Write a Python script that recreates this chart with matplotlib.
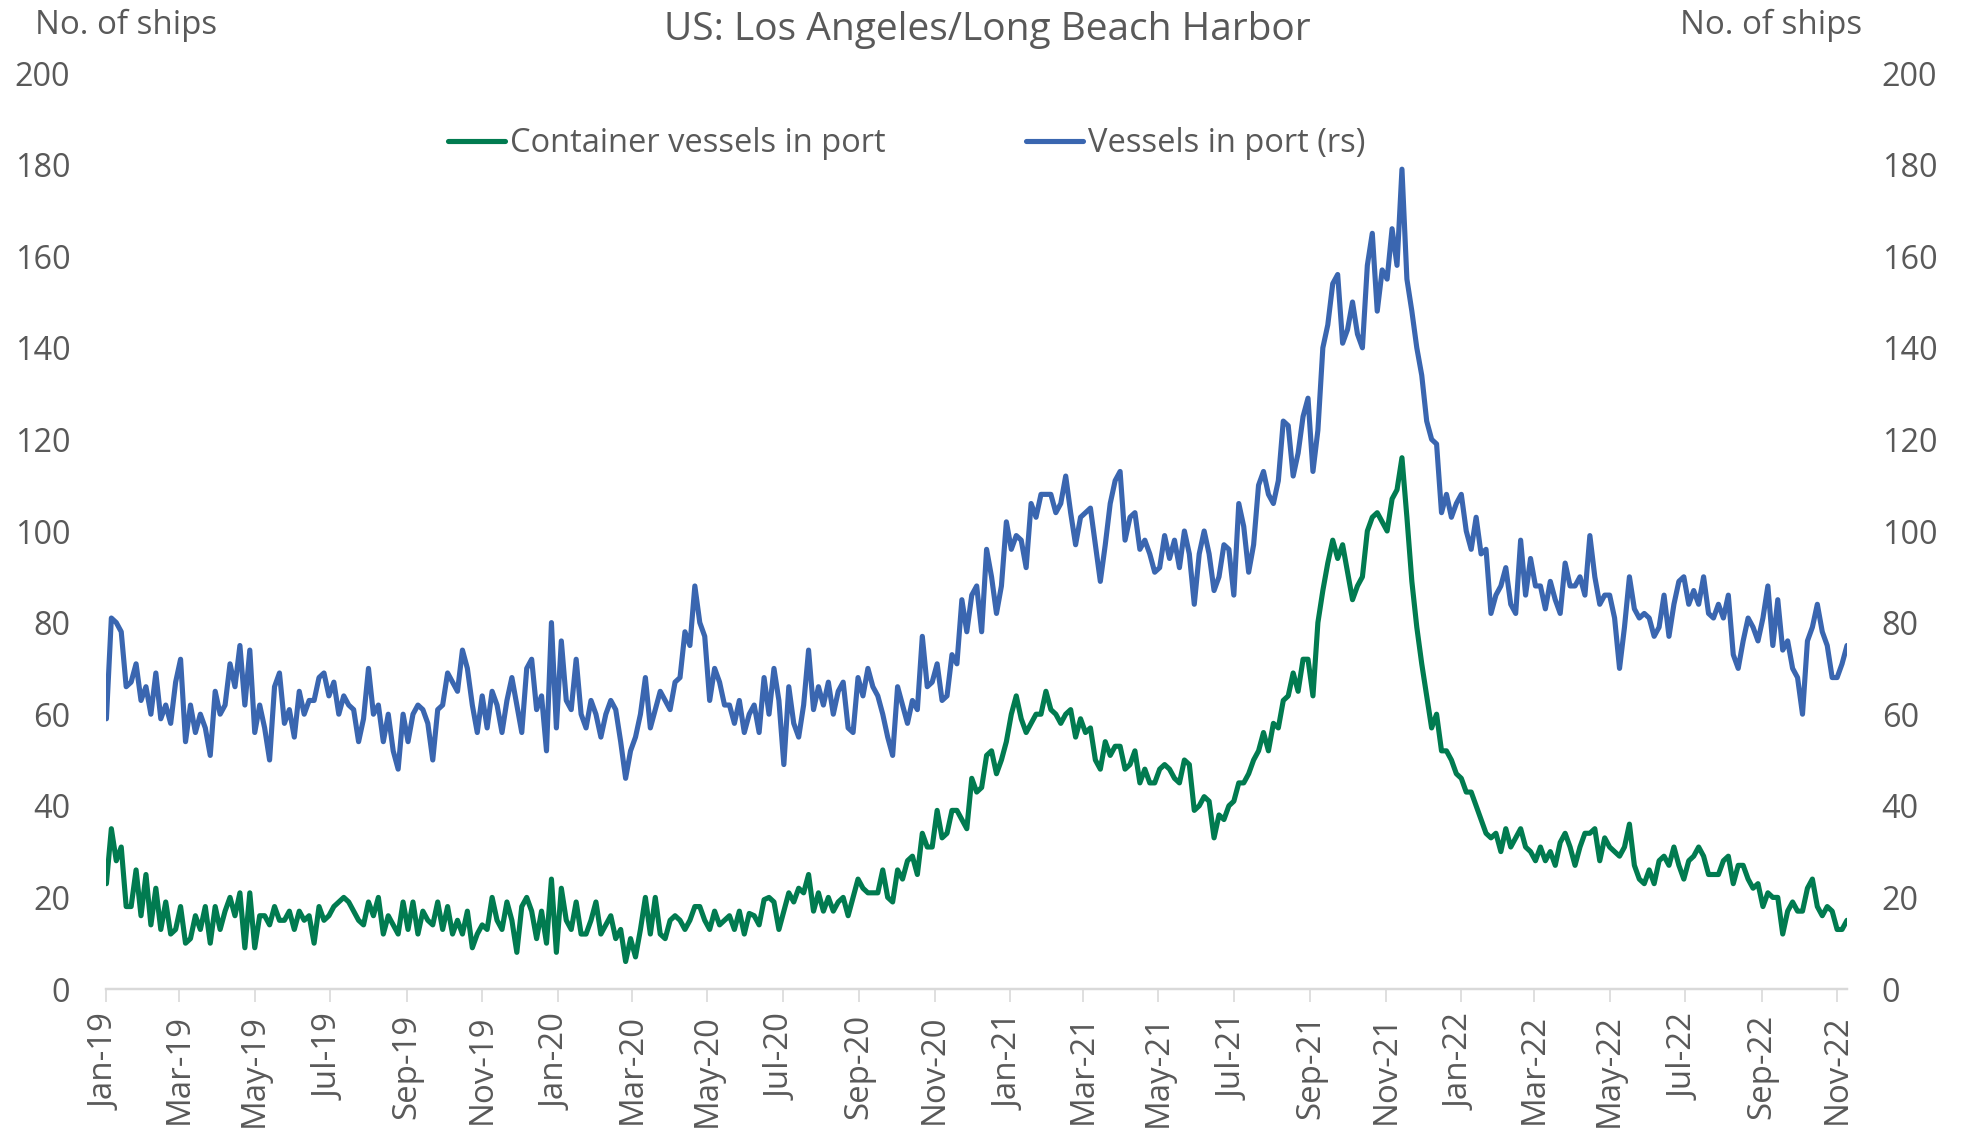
import matplotlib
matplotlib.use('Agg')
import matplotlib.pyplot as plt
import pandas as pd

# ---------------- data (sampled every 4 days from 1 Jan 2019) ----------------
start_date = '2019-01-01'
sample_step = '4D'

container_vessels = [
    23, 35, 28, 31, 18, 18, 26, 16, 25, 14, 22, 13, 19, 12, 13, 18, 10, 11, 16, 13,
    18, 10, 18, 13, 17, 20, 16, 21, 9, 21, 9, 16, 16, 14, 18, 15, 15, 17, 13, 17,
    15, 16, 10, 18, 15, 16, 18, 19, 20, 19, 17, 15, 14, 19, 16, 20, 12, 16, 14, 12,
    19, 13, 19, 12,
    17, 15, 14, 19, 13, 18, 12, 15, 12, 17, 9, 12, 14, 13, 20, 15, 13, 19, 15, 8,
    18, 20, 17, 11, 17, 10, 24, 8, 22, 15, 13, 19, 12, 12, 15, 19, 12, 14, 16, 11,
    13, 6, 11, 7, 13, 20, 12, 20, 12, 11, 15, 16, 15, 13, 15, 18, 18, 15, 13, 17, 14,
    15, 16, 13, 17, 12, 16.5, 16, 14, 19.5, 20, 19, 13, 17, 21, 19, 22, 21, 25, 17, 21,
    17, 20, 17, 19, 20, 16, 20, 24, 22, 21, 21, 21, 26, 20, 19, 26, 24, 28, 29, 25,
    34, 31, 31, 39, 33, 34, 39, 39, 37, 35, 46, 43, 44, 51, 52, 47, 50, 54, 60, 64,
    59, 56, 58, 60, 60, 65, 61, 60, 58, 60, 61, 55, 59, 56, 57, 50, 48, 54, 51, 53,
    53, 48, 49, 52, 45, 48, 45, 45, 48, 49, 48, 46, 45, 50, 49, 39, 40, 42, 41, 33,
    38, 37, 40, 41, 45, 45, 47, 50, 52, 56, 52, 58, 57, 63,
    64, 69, 65, 72, 72, 64, 80, 87, 93, 98, 94, 97, 91, 85, 88, 90, 100, 103, 104, 102,
    100, 107, 109, 116, 103, 89, 79, 71, 64, 57, 60, 52, 52, 50, 47, 46,
    43, 43, 40, 37, 34, 33, 34, 30, 35, 31, 33, 35, 31, 30, 28, 31, 28, 30, 27, 32,
    34, 31, 27,
    31, 34, 34, 35, 28, 33, 31, 30, 29, 31, 36, 27, 24, 23, 26, 23, 28, 29, 27, 31,
    27, 24, 28, 29, 31, 29, 25, 25, 25, 28, 29, 23, 27, 27, 24, 22, 23, 18, 21, 20,
    20, 12, 17, 19, 17, 17, 22, 24, 18, 16, 18, 17, 13, 13, 15,
]

vessels_in_port = [
    59, 81, 80, 78, 66, 67, 71, 63, 66, 60, 69, 59, 62, 58, 67, 72, 54, 62, 56, 60,
    57, 51, 65, 60, 62, 71, 66, 75, 62, 74, 56, 62, 57, 50, 66, 69, 58, 61, 55, 65,
    60, 63, 63, 68, 69, 64, 67, 60, 64, 62, 61, 54, 59, 70, 60, 62, 54, 60, 52, 48,
    60, 54, 60, 62,
    61, 58, 50, 61, 62, 69, 67, 65, 74, 70, 62, 56, 64, 57, 65, 62, 56, 63, 68, 62,
    56, 70, 72, 61, 64, 52, 80, 57, 76, 63, 61, 72, 60, 57, 63, 60, 55, 60, 63, 61,
    54, 46, 52, 55, 60, 68, 57, 61, 65, 63, 61, 67, 68, 78, 75, 88, 80, 77, 63, 70, 67,
    62, 62, 58, 63, 56, 60, 62, 56, 68, 60, 70, 63, 49, 66, 58, 55, 62, 74, 61, 66,
    62, 67, 60, 65, 67, 57, 56, 68, 64, 70, 66, 64, 60, 55, 51, 66, 62, 58, 63, 61,
    77, 66, 67, 71, 63, 64, 73, 71, 85, 78, 86, 88, 78, 96, 90, 82, 88, 102, 96, 99,
    98, 92, 106, 103, 108, 108, 108, 104, 106, 112, 104, 97, 103, 104, 105, 97, 89, 97, 106, 111,
    113, 98, 103, 104, 96, 98, 95, 91, 92, 99, 94, 98, 92, 100, 95, 84, 95, 100, 95, 87,
    90, 97, 96, 86, 106, 101, 91, 97, 110, 113, 108, 106, 111, 124,
    123, 112, 117, 125, 129, 113, 122, 140, 145, 154, 156, 141, 144, 150, 143, 140, 158, 165, 148, 157,
    155, 166, 158, 179, 155, 148, 140, 134, 124, 120, 119, 104, 108, 103, 106, 108,
    100, 96, 103, 95, 96, 82, 86, 88, 92, 84, 82, 98, 86, 94, 88, 88, 83, 89, 85, 82,
    93, 88, 88,
    90, 86, 99, 90, 84, 86, 86, 81, 70, 79, 90, 83, 81, 82, 81, 77, 79, 86, 77, 84,
    89, 90, 84, 87, 84, 90, 82, 81, 84, 81, 86, 73, 70, 76, 81, 79, 76, 81, 88, 75,
    85, 74, 76, 70, 68, 60, 76, 79, 84, 78, 75, 68, 68, 71, 75,
]

title = 'US: Los Angeles/Long Beach Harbor'
y_label = 'No. of ships'
series_names = ['Container vessels in port', 'Vessels in port (rs)']
y_ticks = list(range(0, 201, 20))
x_tick_dates = pd.date_range('2019-01-01', '2022-11-01', freq='2MS')

dates = pd.date_range(start_date, periods=len(vessels_in_port), freq=sample_step)

# ---------------- styling ----------------
GREEN = '#017B50'
BLUE = '#3A66B0'
TXT = '#595959'
AXISC = '#D9D9D9'
FONT = 'Open Sans'
FS = 23.3

plt.rcParams['font.family'] = [FONT, 'DejaVu Sans']

W, H = 1963, 1130
fig = plt.figure(figsize=(W / 100, H / 100), dpi=100)
x0, x1 = 106.4, 1847.0
y0, y1 = 989.0, 73.0
ax = fig.add_axes([x0 / W, 1 - y0 / H, (x1 - x0) / W, (y0 - y1) / H])
ax2 = ax.twinx()

l1, = ax.plot(dates, container_vessels, color=GREEN, lw=3.7, solid_joinstyle='round',
              solid_capstyle='round', label=series_names[0], zorder=3)
l2, = ax2.plot(dates, vessels_in_port, color=BLUE, lw=3.7, solid_joinstyle='round',
               solid_capstyle='round', label=series_names[1], zorder=3)

for a in (ax, ax2):
    a.set_ylim(0, 200)
    a.set_yticks(y_ticks)
    a.set_xlim(dates[0], dates[-1])
    for s in ('top', 'left', 'right'):
        a.spines[s].set_visible(False)
    a.spines['bottom'].set_color(AXISC)
    a.spines['bottom'].set_linewidth(1.6)

ax.tick_params(axis='y', length=0, pad=26, labelsize=FS, labelcolor=TXT)
ax2.tick_params(axis='y', length=0, pad=25, labelsize=FS, labelcolor=TXT)

ax.set_xticks(x_tick_dates)
ax.set_xticklabels([d.strftime('%b-%y') for d in x_tick_dates], rotation=90,
                   fontsize=FS + 0.5, color=TXT)
ax.tick_params(axis='x', length=9, width=1.2, color=AXISC, pad=9)

fig.text(0.503, 0.9735, title, ha='center', va='center', fontsize=28, color=TXT)
fig.text(35 / W, 1 - 25 / H, y_label, ha='left', va='center', fontsize=FS + 0.5, color=TXT)
fig.text(1862 / W, 1 - 25 / H, y_label, ha='right', va='center', fontsize=FS + 0.5, color=TXT)

fig.legend(handles=[l1, l2], loc='center', bbox_to_anchor=(907 / W, 1 - 144 / H),
           ncol=2, frameon=False, fontsize=FS + 0.2, labelcolor=TXT, handlelength=1.75,
           handletextpad=0.15, columnspacing=4.3)

fig.savefig('out.png', dpi=100, facecolor='white')
